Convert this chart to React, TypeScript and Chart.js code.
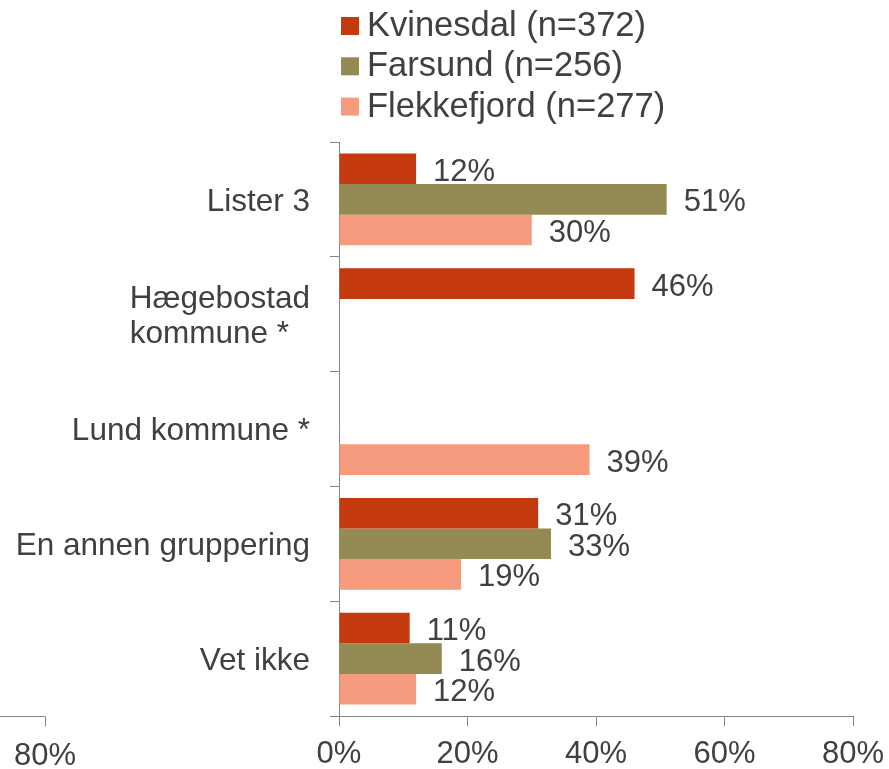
import React, { useEffect, useRef } from "react";
import { Chart, registerables } from "chart.js";

Chart.register(...registerables);

// ---- data ----
const categories: string[][] = [
  ["Lister 3"],
  ["Hægebostad", "kommune *"],
  ["Lund kommune *"],
  ["En annen gruppering"],
  ["Vet ikke"],
];
const seriesNames = ["Kvinesdal (n=372)", "Farsund (n=256)", "Flekkefjord (n=277)"];
const kvinesdal: (number | null)[] = [12, 46, null, 31, 11];
const farsund: (number | null)[] = [51, null, null, 33, 16];
const flekkefjord: (number | null)[] = [30, null, 39, 19, 12];
const xMin = 0;
const xMax = 80;
const xStep = 20;
const leftFragmentLabel = "80%";

const seriesColors = ["#C4390E", "#948A54", "#F69B7D"];
const TEXT = "#404040";
const AXIS = "#868686";
const FONT = '"Liberation Sans", Arial, sans-serif';

const customPlugin = {
  id: "custom",
  afterDraw(chart: any) {
    const ctx = chart.ctx as CanvasRenderingContext2D;
    const yScale = chart.scales.y;
    const xScale = chart.scales.x;
    ctx.save();

    // y category labels (block right-aligned, lines left-aligned)
    ctx.font = `31.5px ${FONT}`;
    ctx.fillStyle = TEXT;
    ctx.textBaseline = "middle";
    ctx.textAlign = "left";
    const xRight = yScale.right - 9 - 20;
    const lh = 35;
    categories.forEach((lines, i) => {
      const cy = yScale.getPixelForValue(i) + 2.5;
      const w = Math.max(...lines.map((l) => ctx.measureText(l).width));
      lines.forEach((l, j) => {
        ctx.fillText(l, xRight - w, cy + (j - (lines.length - 1) / 2) * lh);
      });
    });

    // data labels
    ctx.font = `31px ${FONT}`;
    chart.data.datasets.forEach((ds: any, di: number) => {
      const meta = chart.getDatasetMeta(di);
      meta.data.forEach((el: any, i: number) => {
        const v = ds.data[i];
        if (v === null || v === undefined) return;
        ctx.fillText(`${v}%`, el.x + 17, el.y + 3.5);
      });
    });

    // left axis fragment
    const ay = Math.round(xScale.top) + 0.5;
    ctx.strokeStyle = AXIS;
    ctx.lineWidth = 1;
    ctx.beginPath();
    ctx.moveTo(0, ay);
    ctx.lineTo(45.5, ay);
    ctx.moveTo(45.5, ay);
    ctx.lineTo(45.5, ay + 10);
    ctx.stroke();
    ctx.textAlign = "center";
    ctx.fillText(leftFragmentLabel, 45, ay + 40);

    // legend
    ctx.font = `34.5px ${FONT}`;
    ctx.textAlign = "left";
    ctx.textBaseline = "alphabetic";
    const baselines = [36, 76.3, 116.6];
    seriesNames.forEach((name, i) => {
      ctx.fillStyle = seriesColors[i];
      ctx.fillRect(341, baselines[i] - 19, 18, 18);
      ctx.fillStyle = TEXT;
      ctx.fillText(name, 367, baselines[i]);
    });
    ctx.restore();
  },
};

export default function App() {
  const ref = useRef<HTMLCanvasElement>(null);
  useEffect(() => {
    document.body.style.margin = "0";
    const canvas = ref.current!;
    const chart = new Chart(canvas, {
      type: "bar",
      data: {
        labels: categories.map((c) => c.join(" ")),
        datasets: [
          { label: seriesNames[0], data: kvinesdal, backgroundColor: seriesColors[0] },
          { label: seriesNames[1], data: farsund, backgroundColor: seriesColors[1] },
          { label: seriesNames[2], data: flekkefjord, backgroundColor: seriesColors[2] },
        ] as any,
      },
      options: {
        indexAxis: "y",
        responsive: false,
        animation: false,
        devicePixelRatio: 1,
        layout: { padding: { top: 142, right: 36, left: 0, bottom: 0 } },
        datasets: { bar: { barPercentage: 1, categoryPercentage: 0.8 } } as any,
        plugins: { legend: { display: false }, tooltip: { enabled: false } },
        scales: {
          x: {
            type: "linear",
            min: xMin,
            max: xMax,
            ticks: {
              stepSize: xStep,
              callback: (v: any) => `${v}%`,
              color: TEXT,
              font: { family: FONT, size: 31 },
              padding: 10,
            },
            grid: { drawOnChartArea: false, tickLength: 10, color: AXIS },
            border: { color: AXIS },
            afterFit: (s: any) => {
              s.height = 53;
              s.paddingLeft = 0;
              s.paddingRight = 0;
            },
          },
          y: {
            type: "category",
            ticks: { display: false },
            grid: { drawOnChartArea: false, offset: true, tickLength: 9, color: AXIS },
            border: { color: AXIS },
            afterFit: (s: any) => {
              s.width = 339;
              s.paddingTop = 0;
              s.paddingBottom = 0;
            },
          },
        } as any,
      },
      plugins: [customPlugin],
    });
    return () => chart.destroy();
  }, []);
  return <canvas ref={ref} width={889} height={769} style={{ display: "block" }} />;
}
